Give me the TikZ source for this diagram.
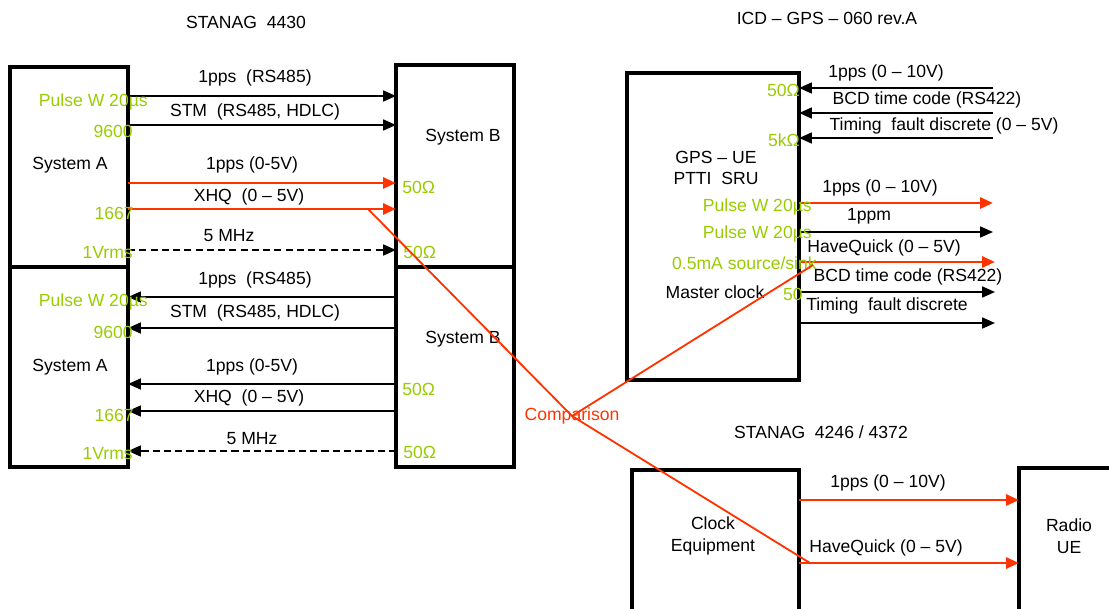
\documentclass[tikz,border=0pt]{standalone}
\usepackage{fontspec}
\setmainfont{Liberation Sans}
\usepackage{xcolor}
\usepackage{tikz}
\usetikzlibrary{arrows.meta, positioning}
\definecolor{sigred}{HTML}{FF3300}
\definecolor{ohmgreen}{HTML}{99CC00}
\tikzstyle{box}       = [rectangle, draw=black, line width=2.5pt, inner sep=0pt,
                         outer sep=0pt, minimum width=2.95cm]
\tikzstyle{txt}       = [font=\fontsize{12.5}{15.5}\selectfont, inner sep=0pt,
                         align=center]
\tikzstyle{note}      = [txt, text=ohmgreen]
\tikzstyle{arrow}     = [line width=1.5pt, -{Triangle[length=0.32cm, width=0.27cm]}]
\tikzstyle{redarrow}  = [arrow, draw=sigred, line width=2.1pt]
\tikzstyle{dasharrow} = [arrow, dash pattern=on 5pt off 3pt]
\tikzstyle{cmpline}   = [draw=sigred, line width=1.3pt]

\begin{document}
\begin{tikzpicture}[x=0.025cm, y=-0.025cm]
    \useasboundingbox (0,0) rectangle (1109,609);
    \clip (0,0) rectangle (1109,609);

    % STANAG 4430
    \node (t4430) [txt] at (246,22) {STANAG\ \ 4430};
    \node (sysA1) [box, anchor=north west, minimum height=5cm] at (10,67) {};
    \node (sysA2) [box, minimum height=5cm, below=0pt of sysA1] {};
    \node (sysB1) [box, anchor=north west, minimum height=5.05cm] at (396,65) {};
    \node (sysB2) [box, minimum height=5cm, below=0pt of sysB1] {};
    \node (nA1) [txt] at (70,165) {System A};
    \node (nA2) [txt] at (70,367) {System A};
    \node (nB1) [txt] at (463,137) {System B};
    \node (nB2) [txt] at (463,339) {System B};

    \draw [arrow]     (sysA1.east |- 0,96)  -- (sysB1.west |- 0,96);
    \draw [arrow]     (sysA1.east |- 0,125) -- (sysB1.west |- 0,125);
    \draw [redarrow]  (sysA1.east |- 0,183) -- (sysB1.west |- 0,183);
    \draw [redarrow]  (sysA1.east |- 0,209) -- (sysB1.west |- 0,209);
    \draw [dasharrow] (sysA1.east |- 0,250) -- (sysB1.west |- 0,250);
    \node (u1) [txt] at (255,78)  {1pps\ \ (RS485)};
    \node (u2) [txt] at (255,112) {STM\ \ (RS485, HDLC)};
    \node (u3) [txt] at (252,165) {1pps (0-5V)};
    \node (u4) [txt] at (249,197) {XHQ\ \ (0 – 5V)};
    \node (u5) [txt] at (229,236) {5 MHz};

    \draw [arrow]     (sysB2.west |- 0,297) -- (sysA2.east |- 0,297);
    \draw [arrow]     (sysB2.west |- 0,328) -- (sysA2.east |- 0,328);
    \draw [arrow]     (sysB2.west |- 0,384) -- (sysA2.east |- 0,384);
    \draw [arrow]     (sysB2.west |- 0,411) -- (sysA2.east |- 0,411);
    \draw [dasharrow] (sysB2.west |- 0,451) -- (sysA2.east |- 0,451);
    \node (d1) [txt] at (255,280) {1pps\ \ (RS485)};
    \node (d2) [txt] at (255,313) {STM\ \ (RS485, HDLC)};
    \node (d3) [txt] at (252,367) {1pps (0-5V)};
    \node (d4) [txt] at (249,398) {XHQ\ \ (0 – 5V)};
    \node (d5) [txt] at (252,439) {5 MHz};

    \node (gA1) [note, anchor=east] at (148,102) {Pulse W 20µs};
    \node (gA2) [note, anchor=east] at (133,131) {9600};
    \node (gA3) [note, anchor=east] at (134,213) {1667};
    \node (gA4) [note, anchor=east] at (133,253) {1Vrms};
    \node (gA5) [note, anchor=east] at (148,302) {Pulse W 20µs};
    \node (gA6) [note, anchor=east] at (133,332) {9600};
    \node (gA7) [note, anchor=east] at (134,415) {1667};
    \node (gA8) [note, anchor=east] at (133,454) {1Vrms};
    \node (gB1) [note, anchor=west] at (402,187) {50Ω};
    \node (gB2) [note, anchor=west] at (403,252) {50Ω};
    \node (gB3) [note, anchor=west] at (402,389) {50Ω};
    \node (gB4) [note, anchor=west] at (403,452) {50Ω};

    % ICD-GPS-060
    \node (ticd) [txt] at (827,18) {ICD – GPS – 060 rev.A};
    \node (gps) [box, anchor=north west, minimum width=4.3cm,
                 minimum height=7.675cm] at (627,73) {};
    \node (ngps) [txt] at (716,168) {GPS – UE\\PTTI\ \ SRU};
    \node (nmaster) [txt] at (715,292) {Master clock};

    \coordinate (in1) at (993,88);
    \coordinate (in2) at (993,113);
    \coordinate (in3) at (993,138);
    \draw [arrow] (in1) -- (gps.east |- in1);
    \draw [arrow] (in2) -- (gps.east |- in2);
    \draw [arrow] (in3) -- (gps.east |- in3);
    \node (i1) [txt] at (886,73)  {1pps (0 – 10V)};
    \node (i2) [txt] at (927,100) {BCD time code (RS422)};
    \node (i3) [txt] at (944,126) {Timing\ \ fault discrete (0 – 5V)};

    \coordinate (out1) at (993,203);
    \coordinate (out2) at (993,232);
    \coordinate (out3) at (995,262);
    \coordinate (out4) at (995,292);
    \coordinate (out5) at (995,323);
    \draw [redarrow] (gps.east |- out1) -- (out1);
    \draw [arrow]    (gps.east |- out2) -- (out2);
    \draw [redarrow] (gps.east |- out3) -- (out3);
    \draw [arrow]    (gps.east |- out4) -- (out4);
    \draw [arrow]    (gps.east |- out5) -- (out5);
    \node (o1) [txt] at (880,188) {1pps (0 – 10V)};
    \node (o2) [txt] at (869,216) {1ppm};
    \node (o3) [txt] at (884,248) {HaveQuick (0 – 5V)};
    \node (o4) [txt] at (908,277) {BCD time code (RS422)};
    \node (o5) [txt] at (887,306) {Timing\ \ fault discrete};

    \node (gG1) [note, anchor=east] at (800,90)  {50Ω};
    \node (gG2) [note, anchor=east] at (800,140) {5kΩ};
    \node (gG3) [note, anchor=east] at (812,207) {Pulse W 20µs};
    \node (gG4) [note, anchor=east] at (812,234) {Pulse W 20µs};
    \node (gG5) [note, anchor=east] at (817,263) {0.5mA source/sink};
    \node (gG6) [note, anchor=east] at (803,294) {50};

    % STANAG 4246 / 4372
    \node (t4246) [txt] at (821,432) {STANAG\ \ 4246 / 4372};
    \node (clock) [box, anchor=north west, minimum width=4.175cm,
                   minimum height=3.75cm] at (632,470) {};
    \node (radio) [box, anchor=north west, minimum width=2.75cm,
                   minimum height=3.75cm] at (1019,468) {};
    \node (nclock) [txt] at (713,536) {Clock\\Equipment};
    \node (nradio) [txt] at (1069,536) {Radio\\UE};
    \draw [redarrow] (clock.east |- 0,500) -- (radio.west |- 0,500);
    \draw [redarrow] (clock.east |- 0,563) -- (radio.west |- 0,563);
    \node (b1) [txt] at (888,483) {1pps (0 – 10V)};
    \node (b2) [txt] at (886,548) {HaveQuick (0 – 5V)};

    % comparison
    \node (cmp) [txt, text=sigred] at (572,416) {Comparison};
    \coordinate (tapA) at (368,209);
    \coordinate (tapG) at (813,265);
    \coordinate (tapC) at (810,563);
    \draw [cmpline] (tapA) -- (cmp.center) -- (tapC);
    \draw [cmpline] (cmp.center) -- (tapG);
\end{tikzpicture}
\end{document}
